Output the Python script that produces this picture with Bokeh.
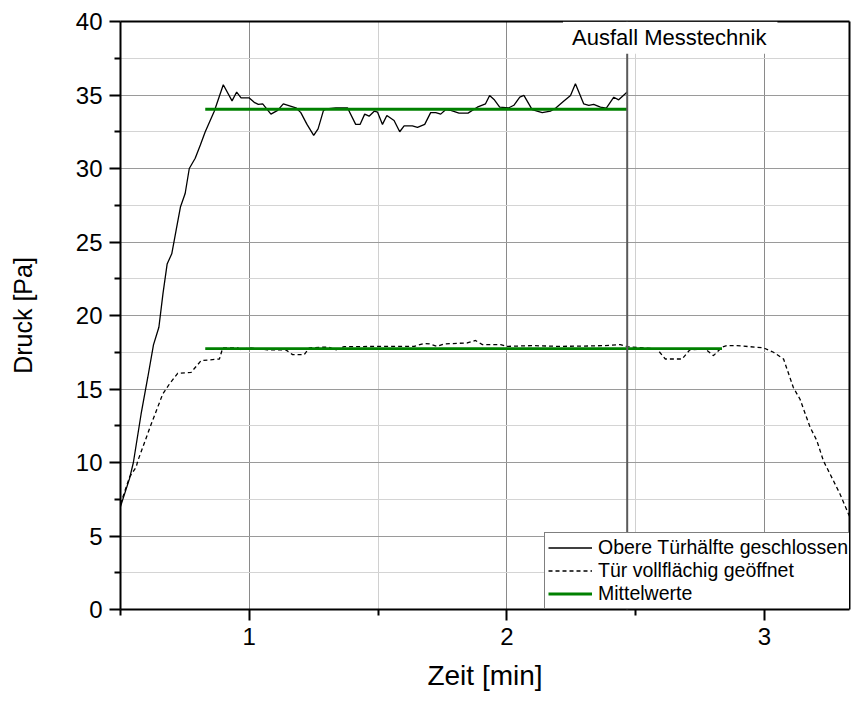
from bokeh.plotting import figure
from bokeh.models import Range1d, Span, Label, Legend, LegendItem, FixedTicker, LinearAxis
from bokeh.embed import file_html
from bokeh.resources import INLINE

# --- data ---
t_oben = [0.500, 0.535, 0.550, 0.580, 0.606, 0.628, 0.649, 0.665, 0.681, 0.699,
          0.716, 0.733, 0.751, 0.767, 0.790, 0.810, 0.829, 0.864, 0.899, 0.933,
          0.951, 0.968, 1.000, 1.019, 1.035, 1.052, 1.084, 1.110, 1.132, 1.181,
          1.200, 1.224, 1.250, 1.267, 1.288, 1.300, 1.336, 1.381, 1.413, 1.430,
          1.448, 1.465, 1.485, 1.498, 1.517, 1.534, 1.562, 1.584, 1.601, 1.633,
          1.653, 1.681, 1.704, 1.724, 1.743, 1.762, 1.782, 1.814, 1.849, 1.885,
          1.917, 1.933, 1.950, 1.972, 2.008, 2.027, 2.050, 2.066, 2.098, 2.137,
          2.169, 2.191, 2.219, 2.247, 2.266, 2.298, 2.318, 2.337, 2.363, 2.386,
          2.415, 2.434, 2.467]
p_oben = [7.0, 8.9, 10.0, 13.3, 15.8, 18.0, 19.2, 21.5, 23.5, 24.2,
          25.8, 27.4, 28.3, 30.0, 30.7, 31.6, 32.5, 33.9, 35.7, 34.6,
          35.2, 34.8, 34.8, 34.5, 34.36, 34.4, 33.7, 33.95, 34.4, 34.13,
          33.8, 33.0, 32.25, 32.7, 33.95, 34.06, 34.13, 34.13, 33.0, 33.0,
          33.7, 33.56, 33.9, 33.83, 33.0, 33.6, 33.27, 32.5, 32.9, 32.9,
          32.8, 33.0, 33.8, 33.8, 33.7, 34.0, 33.95, 33.77, 33.77, 34.17,
          34.4, 34.97, 34.7, 34.17, 34.13, 34.3, 34.85, 34.97, 34.0, 33.8,
          33.9, 34.13, 34.56, 34.97, 35.76, 34.4, 34.3, 34.36, 34.17, 34.1,
          34.85, 34.67, 35.2]

t_offen = [0.500, 0.535, 0.561, 0.567, 0.619, 0.664, 0.690, 0.722, 0.774, 0.813,
           0.884, 0.897, 0.955, 0.968, 1.000, 1.045, 1.071, 1.142, 1.168, 1.213,
           1.233, 1.278, 1.310, 1.336, 1.368, 1.549, 1.640, 1.678, 1.700, 1.730,
           1.756, 1.846, 1.878, 1.905, 1.976, 2.000, 2.100, 2.200, 2.300, 2.376,
           2.440, 2.467, 2.583, 2.615, 2.680, 2.710, 2.770, 2.802, 2.835, 2.854,
           2.893, 2.996, 3.035, 3.074, 3.112, 3.138, 3.177, 3.203, 3.229, 3.255,
           3.293, 3.332]
p_offen = [7.17, 9.0, 9.7, 10.1, 12.6, 14.66, 15.34, 16.07, 16.13, 16.93,
           17.04, 17.8, 17.8, 17.66, 17.8, 17.72, 17.66, 17.66, 17.34, 17.34,
           17.8, 17.84, 17.84, 17.66, 17.88, 17.9, 17.9, 18.1, 18.07, 17.9,
           18.07, 18.13, 18.3, 18.02, 18.02, 17.9, 17.95, 17.9, 17.92, 17.95,
           18.02, 17.88, 17.72, 17.04, 17.04, 17.66, 17.72, 17.27, 17.84, 17.95,
           17.95, 17.8, 17.5, 17.04, 15.1, 14.3, 12.4, 11.5, 10.1, 9.2,
           7.86, 6.26]

mittel_werte = [34.03, 17.75]
mittel_start = [0.829, 0.829]
mittel_ende = [2.467, 2.835]

ausfall_t = 2.467
ausfall_text = "Ausfall Messtechnik"

x_major = [1, 2, 3]
x_minor = [0.5, 1.5, 2.5]
y_major = [0, 5, 10, 15, 20, 25, 30, 35, 40]
y_minor = [2.5, 7.5, 12.5, 17.5, 22.5, 27.5, 32.5, 37.5]

labels = ["Obere Türhälfte geschlossen", "Tür vollflächig geöffnet", "Mittelwerte"]

FONT = "Liberation Sans"

p = figure(width=851, height=704, output_backend="svg", toolbar_location=None,
           x_range=Range1d(0.5, 3.33), y_range=Range1d(0, 40),
           min_border_left=120, min_border_right=2, min_border_top=21,
           min_border_bottom=95)

p.xaxis.ticker = FixedTicker(ticks=x_major, minor_ticks=x_minor)
p.yaxis.ticker = FixedTicker(ticks=y_major, minor_ticks=y_minor)

p.xgrid.grid_line_color = "#8a8a8a"
p.xgrid.minor_grid_line_color = "#d0d0d0"
p.ygrid.grid_line_color = "#9a9a9a"
p.ygrid.minor_grid_line_color = "#d4d4d4"

for ax in (p.xaxis[0], p.yaxis[0]):
    ax.axis_line_width = 2
    ax.axis_line_color = "black"
    ax.major_tick_line_width = 2
    ax.minor_tick_line_width = 2
    ax.major_tick_line_color = "black"
    ax.minor_tick_line_color = "black"
    ax.major_tick_in = 0
    ax.major_tick_out = 11
    ax.minor_tick_in = 0
    ax.minor_tick_out = 6
    ax.major_label_text_font = FONT
    ax.major_label_text_font_size = "24px"
    ax.major_label_text_color = "black"
    ax.major_label_standoff = 7
    ax.axis_label_text_font = FONT
    ax.axis_label_text_font_style = "normal"
    ax.axis_label_text_color = "black"

p.xaxis.axis_label = "Zeit [min]"
p.xaxis.axis_label_text_font_size = "28px"
p.xaxis.axis_label_standoff = 12
p.yaxis.axis_label = "Druck [Pa]"
p.yaxis.axis_label_text_font_size = "25px"
p.yaxis.axis_label_standoff = 36

# frame lines on top and right drawn as plain axes (no ticks, no labels)
p.outline_line_color = None
for side in ("above", "right"):
    fa = LinearAxis(ticker=FixedTicker(ticks=[]), major_label_text_font_size="0px",
                    axis_line_width=2, axis_line_color="black",
                    major_tick_out=0, major_tick_in=0, minor_tick_out=0, minor_tick_in=0,
                    major_label_standoff=0)
    p.add_layout(fa, side)

r1 = p.line(t_oben, p_oben, line_color="black", line_width=1.3)
r2 = p.line(t_offen, p_offen, line_color="black", line_width=1.3, line_dash="4 3")
r3 = p.segment(x0=mittel_start, y0=mittel_werte, x1=mittel_ende, y1=mittel_werte,
               line_color="#008000", line_width=2.8)

span = Span(location=ausfall_t, dimension="height", line_color="#5a5a5a", line_width=2)
p.add_layout(span)

lbl = Label(x=2.634, y=38.9, text=ausfall_text, text_align="center", text_baseline="middle",
            text_font=FONT, text_font_size="22px", text_color="black",
            background_fill_color="white", background_fill_alpha=1.0,
            padding=(9, 11, 3, 4))
p.add_layout(lbl)

legend = Legend(items=[LegendItem(label=labels[0], renderers=[r1]),
                       LegendItem(label=labels[1], renderers=[r2]),
                       LegendItem(label=labels[2], renderers=[r3])],
                location=(424, 0))
legend.label_text_font = FONT
legend.label_text_font_size = "19.5px"
legend.label_text_color = "black"
legend.glyph_width = 44
legend.glyph_height = 23
legend.label_height = 23
legend.label_standoff = 6
legend.padding = 3
legend.spacing = 0
legend.margin = 0
legend.border_line_color = "black"
legend.border_line_width = 1.5
legend.background_fill_alpha = 1.0
p.add_layout(legend)

open("out.html", "w").write(file_html(p, INLINE))
